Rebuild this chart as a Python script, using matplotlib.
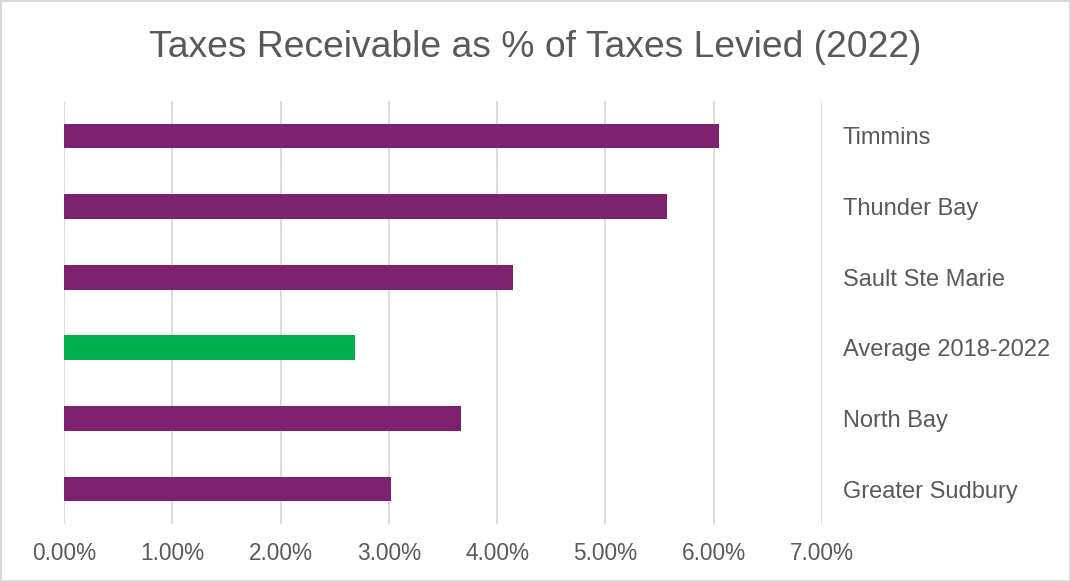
import matplotlib.pyplot as plt
from matplotlib.ticker import FuncFormatter
from matplotlib.patches import Rectangle

# datos (de arriba hacia abajo)
ciudades = ["Timmins", "Thunder Bay", "Sault Ste Marie", "Average 2018-2022", "North Bay", "Greater Sudbury"]
porcentajes = [6.05, 5.57, 4.15, 2.69, 3.67, 3.02]
colores = ["#7B216D", "#7B216D", "#7B216D", "#00B050", "#7B216D", "#7B216D"]
ticks_x = [0, 1, 2, 3, 4, 5, 6, 7]

gris_texto = "#595959"
gris_linea = "#D9D9D9"

plt.rcParams["font.family"] = ["Liberation Sans", "DejaVu Sans"]

fig = plt.figure(figsize=(10.71, 5.82), dpi=100)
ax = fig.add_axes([0.0598, 0.0991, 0.7077, 0.7279])

posiciones = list(range(len(ciudades)))
ax.barh(posiciones, porcentajes, height=0.35, color=colores, zorder=3)
ax.set_ylim(len(ciudades) - 0.5, -0.5)

ax.set_xlim(0, 7)
ax.set_xticks(ticks_x)
ax.xaxis.set_major_formatter(FuncFormatter(lambda v, p: f"{v:.2f}%"))
ax.grid(True, axis="x", color=gris_linea, linewidth=1.3, zorder=0)

ax.set_yticks(posiciones)
ax.set_yticklabels(ciudades)
ax.yaxis.tick_right()
ax.tick_params(axis="y", length=0, pad=15, labelsize=17, labelcolor=gris_texto)
ax.tick_params(axis="x", length=0, pad=13, labelsize=16.3, labelcolor=gris_texto)

for lado in ax.spines.values():
    lado.set_visible(False)

fig.suptitle("Taxes Receivable as % of Taxes Levied (2022)", x=0.5, y=0.919, va="center",
             fontsize=26.8, color=gris_texto)

# borde del gráfico
fig.patches.append(Rectangle((0.001, 0.001), 0.998, 0.998, transform=fig.transFigure,
                             fill=False, edgecolor=gris_linea, linewidth=1.5))

fig.savefig("out.png", dpi=100)
